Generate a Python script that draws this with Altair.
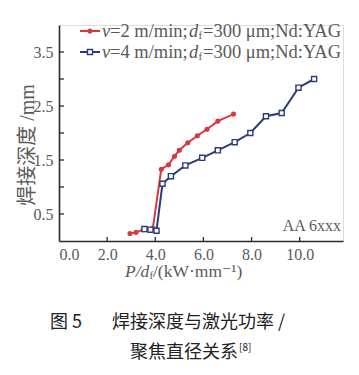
import altair as alt
import pandas as pd

# ---------------- data ----------------
red_x = [2.95, 3.2, 3.5, 3.9, 4.25, 4.55, 4.8, 5.0, 5.35, 5.75, 6.15, 6.6, 7.25]
red_y = [0.14, 0.16, 0.21, 0.24, 1.33, 1.41, 1.57, 1.68, 1.82, 1.95, 2.07, 2.22, 2.35]
blue_x = [3.55, 3.8, 4.05, 4.3, 4.65, 5.25, 5.95, 6.6, 7.3, 7.95, 8.6, 9.25, 9.95, 10.6]
blue_y = [0.22, 0.21, 0.19, 1.06, 1.2, 1.4, 1.54, 1.68, 1.83, 2.0, 2.31, 2.37, 2.84, 3.0]

x_label_values = [0, 2, 4, 6, 8, 10]
x_tick_values = [2, 4, 6, 8, 10]
y_label_values = [0.5, 1.5, 2.5, 3.5]
y_tick_values = [0.5, 1.0, 1.5, 2.0, 2.5, 3.0, 3.5]

legend_speed = ["=2 m/min;", "=4 m/min;"]
legend_rest = "=300 μm;Nd:YAG"
alloy_label = "AA 6xxx"
y_title = "焊接深度 /mm"
caption_line1a = "图 5"
caption_line1b = "焊接深度与激光功率 /"
caption_line2 = "聚焦直径关系"
caption_ref = "[8]"

# ---------------- style ----------------
W, H = 284, 216
RED = "#d63a3c"
BLUE = "#2c3b7a"
AX = "#2a2a2a"
GRAY = "#5a5a5a"
SERIF = "Liberation Serif"
CJK = "Noto Sans CJK SC"

xs = alt.Scale(domain=[0, 11.8], nice=False, zero=False)
ys = alt.Scale(domain=[0, 4.0], nice=False, zero=False)

x_axis = alt.Axis(values=x_label_values, format=".1f", title=None, grid=False,
                  ticks=False, tickSize=0, labelPadding=5, labelFont=SERIF,
                  labelFontSize=16, labelColor=GRAY, domainColor=AX, domainWidth=1.6)
y_axis = alt.Axis(values=y_label_values, format=".1f", title=None, grid=False,
                  ticks=False, tickSize=0, labelPadding=6, labelFont=SERIF,
                  labelFontSize=16, labelColor=GRAY, domainColor=AX, domainWidth=1.6)


def X(f="x:Q"):
    return alt.X(f, scale=xs, axis=x_axis)


def Y(f="y:Q"):
    return alt.Y(f, scale=ys, axis=y_axis)


red_df = pd.DataFrame({"x": red_x, "y": red_y})
blue_df = pd.DataFrame({"x": blue_x, "y": blue_y})

red_line = alt.Chart(red_df).mark_line(color=RED, strokeWidth=2).encode(x=X(), y=Y())
red_pts = alt.Chart(red_df).mark_point(shape="circle", filled=True, color=RED, size=26,
                                       opacity=1).encode(x=X(), y=Y())
blue_line = alt.Chart(blue_df).mark_line(color=BLUE, strokeWidth=2).encode(x=X(), y=Y())
blue_pts = alt.Chart(blue_df).mark_point(shape="square", filled=True, fill="white", stroke=BLUE,
                                         strokeWidth=1.4, size=26, opacity=1).encode(x=X(), y=Y())

x_ticks = alt.Chart(pd.DataFrame({"t": x_tick_values})).mark_rule(color=AX, strokeWidth=1.3).encode(
    x=X("t:Q"), y=alt.value(H), y2=alt.value(H - 4))
y_ticks = alt.Chart(pd.DataFrame({"t": y_tick_values})).mark_rule(color=AX, strokeWidth=1.3).encode(
    y=Y("t:Q"), x=alt.value(0), x2=alt.value(5))


def txt(s, x, y, size=16, font=SERIF, style="normal", color=GRAY, align="left", angle=0):
    return alt.Chart(pd.DataFrame({"t": [s]})).mark_text(
        align=align, baseline="middle", font=font, fontSize=size, fontStyle=style,
        color=color, angle=angle).encode(text="t:N", x=alt.value(x), y=alt.value(y))


layers = [red_line, blue_line, red_pts, blue_pts, x_ticks, y_ticks]

# legend
LFS = 18.5
for i, (col, sp) in enumerate(zip([RED, BLUE], legend_speed)):
    ly = 6 + 21 * i
    layers.append(alt.Chart(pd.DataFrame({"a": [0]})).mark_rule(color=col, strokeWidth=2).encode(
        x=alt.value(21), x2=alt.value(41), y=alt.value(ly)))
    if i == 0:
        layers.append(alt.Chart(pd.DataFrame({"a": [0]})).mark_point(
            shape="circle", filled=True, color=col, size=26, opacity=1).encode(
            x=alt.value(31), y=alt.value(ly)))
    else:
        layers.append(alt.Chart(pd.DataFrame({"a": [0]})).mark_point(
            shape="square", filled=True, fill="white", stroke=col, strokeWidth=1.4, size=26,
            opacity=1).encode(x=alt.value(31), y=alt.value(ly)))
    x0 = 43
    layers.append(txt("v", x0, ly, size=LFS, style="italic"))
    layers.append(txt(sp, x0 + 8, ly, size=LFS))
    layers.append(txt("d", x0 + 87, ly, size=LFS, style="italic"))
    layers.append(txt("f", x0 + 96.5, ly + 5, size=11))
    layers.append(txt(legend_rest, x0 + 101, ly, size=LFS))

# annotation
layers.append(txt(alloy_label, 282, 201, size=16, align="right"))

# axis titles
layers.append(txt(y_title, -31, 120, size=20, font=SERIF + ", " + CJK, angle=270, align="center"))
tx = 66
layers.append(txt("P/d", tx, 247, size=17.5, style="italic"))
layers.append(txt("f", tx + 24.5, 251, size=11))
layers.append(txt("  /(kW·mm⁻¹)", tx + 28, 247, size=17.5, font=SERIF + ", DejaVu Serif"))

# caption
layers.append(txt(caption_line1a, -9, 298, size=18, font=CJK, color="#222222"))
layers.append(txt(caption_line1b, 53, 298, size=18, font=CJK, color="#222222"))
layers.append(txt(caption_line2, 71, 328, size=18, font=CJK, color="#222222"))
layers.append(txt(caption_ref, 180, 323, size=10, font=CJK, color="#222222"))

chart = alt.layer(*layers).properties(
    width=W, height=H,
    autosize=alt.AutoSizeParams(type="none"),
    padding={"left": 51, "top": 17, "right": 8, "bottom": 126},
).configure_view(stroke=None).configure(background="white")

chart.save("out.html", embed_options={"renderer": "svg", "actions": False})
